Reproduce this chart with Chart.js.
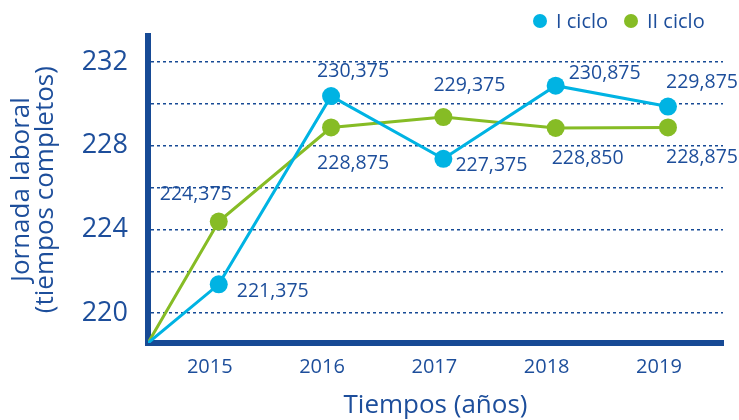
<!DOCTYPE html>
<html lang="es">
<head>
<meta charset="utf-8">
<title>Jornada laboral</title>
<script src="https://cdn.jsdelivr.net/npm/chart.js@4/dist/chart.umd.min.js"></script>
<style>
  html, body { margin: 0; padding: 0; background: #fff; }
  #caja { width: 739px; height: 420px; position: relative; }
</style>
</head>
<body>
<div id="caja"><canvas id="grafico"></canvas></div>
<script>
// datos
const anios = [2015, 2016, 2017, 2018, 2019];
const cicloI = [221.375, 230.375, 227.375, 230.875, 229.875];
const cicloII = [224.375, 228.875, 229.375, 228.850, 228.875];
const ticksY = [220, 224, 228, 232];

// limites de los ejes (las lineas salen del origen)
const ejeXMin = 2014.37, ejeXMax = 2019.49;
const ejeYMin = 218.57, ejeYMax = 233.24;

const azulTexto = '#1d4e9b';
const azulEje = '#174a95';
const colorI = '#00b3e3';
const colorII = '#86bc25';

// desplazamiento de cada etiqueta respecto a su punto
const despI = [[54, 7], [22, -25], [48, 7], [49, -12], [34, -24]];
const despII = [[-23, -27], [22, 36], [26, -32], [32, 30], [34, 30]];

Chart.defaults.font.family = "'Open Sans', sans-serif";

function armarSerie(valores) {
  const puntos = [{ x: ejeXMin, y: ejeYMin }];
  anios.forEach((a, i) => puntos.push({ x: a, y: valores[i] }));
  return puntos;
}

const etiquetasDatos = {
  id: 'etiquetasDatos',
  afterDatasetsDraw(chart) {
    const ctx = chart.ctx;
    ctx.save();
    ctx.font = "19.5px 'Open Sans', sans-serif";
    ctx.fillStyle = azulTexto;
    ctx.textAlign = 'center';
    ctx.textBaseline = 'middle';
    chart.data.datasets.forEach((ds, d) => {
      const meta = chart.getDatasetMeta(d);
      const desp = d === 0 ? despI : despII;
      const valores = d === 0 ? cicloI : cicloII;
      valores.forEach((v, i) => {
        const p = meta.data[i + 1];
        const texto = v.toFixed(3).replace('.', ',');
        ctx.fillText(texto, p.x + desp[i][0], p.y + desp[i][1]);
      });
    });
    ctx.restore();
  }
};

const leyenda = {
  id: 'leyenda',
  afterDraw(chart) {
    const ctx = chart.ctx;
    ctx.save();
    ctx.font = "20px 'Open Sans', sans-serif";
    ctx.textBaseline = 'middle';
    ctx.textAlign = 'left';
    const posiciones = [540, 631];
    chart.data.datasets.forEach((ds, d) => {
      ctx.fillStyle = ds.borderColor;
      ctx.beginPath();
      ctx.arc(posiciones[d], 21, 7, 0, Math.PI * 2);
      ctx.fill();
      ctx.fillStyle = azulTexto;
      ctx.fillText(ds.label, posiciones[d] + 16, 22);
    });
    ctx.restore();
  }
};

new Chart(document.getElementById('grafico'), {
  type: 'line',
  data: {
    datasets: [{
      label: 'I ciclo',
      data: armarSerie(cicloI),
      borderColor: colorI,
      backgroundColor: colorI,
      borderWidth: 3,
      pointRadius: [0, 9, 9, 9, 9, 9],
      pointHoverRadius: 9,
      pointBorderWidth: 0,
      tension: 0
    }, {
      label: 'II ciclo',
      data: armarSerie(cicloII),
      borderColor: colorII,
      backgroundColor: colorII,
      borderWidth: 3,
      pointRadius: [0, 9, 9, 9, 9, 9],
      pointHoverRadius: 9,
      pointBorderWidth: 0,
      tension: 0
    }]
  },
  options: {
    responsive: true,
    maintainAspectRatio: false,
    animation: false,
    layout: { padding: { top: 36, right: 16, left: 0, bottom: 0 } },
    plugins: {
      legend: { display: false },
      tooltip: { enabled: false }
    },
    scales: {
      x: {
        type: 'linear',
        min: ejeXMin,
        max: ejeXMax,
        afterFit: (scale) => { scale.height = 77; },
        grid: { display: false, drawTicks: false },
        border: { display: true, color: azulEje, width: 6 },
        ticks: {
          stepSize: 1,
          includeBounds: false,
          padding: 12,
          labelOffset: -9,
          color: azulTexto,
          font: { size: 20 },
          callback: (v) => String(Math.round(v))
        },
        title: {
          display: true,
          text: 'Tiempos (años)',
          color: azulTexto,
          font: { size: 26, lineHeight: 1.1 },
          padding: { top: 0, bottom: 0 }
        }
      },
      y: {
        min: ejeYMin,
        max: ejeYMax,
        afterFit: (scale) => { scale.width = 148; },
        grid: { color: azulEje, lineWidth: 1.5, drawTicks: false },
        border: { display: true, color: azulEje, width: 6, dash: [3, 3] },
        ticks: {
          stepSize: 2,
          includeBounds: false,
          padding: 20,
          color: azulTexto,
          font: { size: 27 },
          callback: (v) => ticksY.includes(Math.round(v)) ? String(Math.round(v)) : ''
        },
        title: {
          display: true,
          text: ['Jornada laboral', '(tiempos completos)'],
          color: azulTexto,
          font: { size: 26, lineHeight: 0.92 },
          padding: { top: 10, bottom: 0 }
        }
      }
    }
  },
  plugins: [etiquetasDatos, leyenda]
});
</script>
</body>
</html>
